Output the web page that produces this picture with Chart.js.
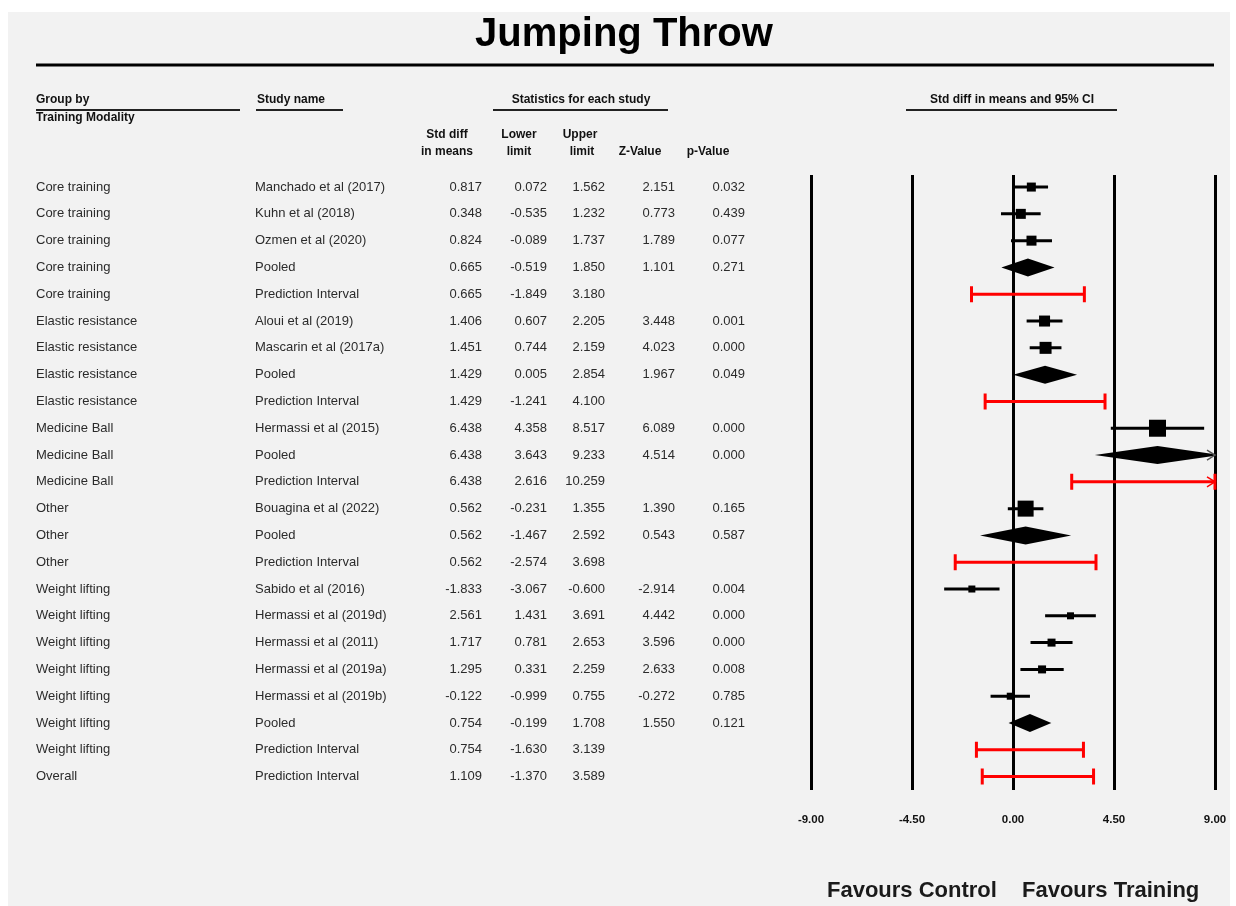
<!DOCTYPE html>
<html>
<head>
<meta charset="utf-8">
<title>Jumping Throw</title>
<script src="https://cdn.jsdelivr.net/npm/chart.js@4.4.1/dist/chart.umd.min.js"></script>
<style>
  html, body { margin: 0; padding: 0; background: #ffffff; }
  canvas { display: block; }
</style>
</head>
<body>
<canvas id="forest" width="1236" height="906"></canvas>
<script>
// ---- Forest plot data (one entry per row, top to bottom) ----
const groups = [
  'Core training', 'Core training', 'Core training', 'Core training', 'Core training',
  'Elastic resistance', 'Elastic resistance', 'Elastic resistance', 'Elastic resistance',
  'Medicine Ball', 'Medicine Ball', 'Medicine Ball',
  'Other', 'Other', 'Other',
  'Weight lifting', 'Weight lifting', 'Weight lifting', 'Weight lifting', 'Weight lifting', 'Weight lifting', 'Weight lifting',
  'Overall'
];
const studies = [
  'Manchado et al (2017)', 'Kuhn et al (2018)', 'Ozmen et al (2020)', 'Pooled', 'Prediction Interval',
  'Aloui et al (2019)', 'Mascarin et al (2017a)', 'Pooled', 'Prediction Interval',
  'Hermassi et al (2015)', 'Pooled', 'Prediction Interval',
  'Bouagina et al (2022)', 'Pooled', 'Prediction Interval',
  'Sabido et al (2016)', 'Hermassi et al (2019d)', 'Hermassi et al (2011)', 'Hermassi et al (2019a)', 'Hermassi et al (2019b)', 'Pooled', 'Prediction Interval',
  'Prediction Interval'
];
const rowKind = [
  'study', 'study', 'study', 'pooled', 'pi',
  'study', 'study', 'pooled', 'pi',
  'study', 'pooled', 'pi',
  'study', 'pooled', 'pi',
  'study', 'study', 'study', 'study', 'study', 'pooled', 'pi',
  'pi'
];
const stdDiff = [0.817, 0.348, 0.824, 0.665, 0.665, 1.406, 1.451, 1.429, 1.429, 6.438, 6.438, 6.438,
                 0.562, 0.562, 0.562, -1.833, 2.561, 1.717, 1.295, -0.122, 0.754, 0.754, 1.109];
const lowerLimit = [0.072, -0.535, -0.089, -0.519, -1.849, 0.607, 0.744, 0.005, -1.241, 4.358, 3.643, 2.616,
                    -0.231, -1.467, -2.574, -3.067, 1.431, 0.781, 0.331, -0.999, -0.199, -1.630, -1.370];
const upperLimit = [1.562, 1.232, 1.737, 1.850, 3.180, 2.205, 2.159, 2.854, 4.100, 8.517, 9.233, 10.259,
                    1.355, 2.592, 3.698, -0.600, 3.691, 2.653, 2.259, 0.755, 1.708, 3.139, 3.589];
const zValue = [2.151, 0.773, 1.789, 1.101, null, 3.448, 4.023, 1.967, null, 6.089, 4.514, null,
                1.390, 0.543, null, -2.914, 4.442, 3.596, 2.633, -0.272, 1.550, null, null];
const pValue = [0.032, 0.439, 0.077, 0.271, null, 0.001, 0.000, 0.049, null, 0.000, 0.000, null,
                0.165, 0.587, null, 0.004, 0.000, 0.000, 0.008, 0.785, 0.121, null, null];
// relative study weights (drive the size of each study's square)
const studyWeight = [9, 10, 10, null, null, 11, 12, null, null, 17, null, null,
                     16, null, null, 7, 7, 8, 8, 7, null, null, null];
const xTicks = [-9, -4.5, 0, 4.5, 9];

// ---- Layout constants ----
const FONT = '"Liberation Sans", Arial, sans-serif';
const TEXT = '#2b2b2b';
const X_MIN = -9, X_MAX = 9;

const studyPoints = [];
rowKind.forEach((k, i) => {
  if (k === 'study') studyPoints.push({ x: stdDiff[i], y: i + 1, w: studyWeight[i] });
});

function fmt(v) { return v === null ? '' : v.toFixed(3); }

// Whiskers, pooled diamonds and prediction intervals, drawn through the chart scales
const intervalPlugin = {
  id: 'intervals',
  beforeDatasetsDraw(chart) {
    const { ctx, chartArea } = chart;
    const xs = chart.scales.x, ys = chart.scales.y;
    const px = v => xs.getPixelForValue(Math.max(X_MIN, Math.min(X_MAX, v)));
    ctx.save();
    rowKind.forEach((kind, i) => {
      const y = ys.getPixelForValue(i + 1);
      const x1 = px(lowerLimit[i]);
      const x2 = px(upperLimit[i]);
      const clippedRight = upperLimit[i] > X_MAX;
      if (kind === 'study') {
        ctx.strokeStyle = '#000';
        ctx.lineWidth = 3;
        ctx.beginPath();
        ctx.moveTo(x1, y);
        ctx.lineTo(x2, y);
        ctx.stroke();
      } else if (kind === 'pooled') {
        const xl = xs.getPixelForValue(lowerLimit[i]);
        const xu = xs.getPixelForValue(upperLimit[i]);
        const xc = xs.getPixelForValue(stdDiff[i]);
        const h = 9;
        ctx.save();
        ctx.beginPath();
        ctx.rect(chartArea.left - 5, chartArea.top, chartArea.right - chartArea.left + 5, chartArea.bottom - chartArea.top);
        ctx.clip();
        ctx.fillStyle = '#000';
        ctx.beginPath();
        ctx.moveTo(xl, y);
        ctx.lineTo(xc, y - h);
        ctx.lineTo(xu, y);
        ctx.lineTo(xc, y + h);
        ctx.closePath();
        ctx.fill();
        ctx.restore();
        if (clippedRight) {
          ctx.strokeStyle = '#555';
          ctx.lineWidth = 1.5;
          ctx.beginPath();
          ctx.moveTo(x2 - 8, y - 5);
          ctx.lineTo(x2, y);
          ctx.lineTo(x2 - 8, y + 5);
          ctx.stroke();
        }
      } else if (kind === 'pi') {
        ctx.strokeStyle = '#ff0000';
        ctx.lineWidth = 3;
        ctx.beginPath();
        ctx.moveTo(x1, y);
        ctx.lineTo(x2, y);
        ctx.moveTo(x1, y - 8);
        ctx.lineTo(x1, y + 8);
        ctx.moveTo(x2, y - 8);
        ctx.lineTo(x2, y + 8);
        ctx.stroke();
        if (clippedRight) {
          ctx.lineWidth = 1.5;
          ctx.beginPath();
          ctx.moveTo(x2 - 8, y - 5);
          ctx.lineTo(x2, y);
          ctx.lineTo(x2 - 8, y + 5);
          ctx.stroke();
        }
      }
    });
    ctx.restore();
  }
};

// Panel background, title, table text and footer labels
const tablePlugin = {
  id: 'table',
  beforeDraw(chart) {
    const { ctx, width, height } = chart;
    ctx.save();
    ctx.fillStyle = '#ffffff';
    ctx.fillRect(0, 0, width, height);
    ctx.fillStyle = '#f2f2f2';
    ctx.fillRect(8, 12, 1222, height - 12);
    ctx.restore();
  },
  afterDraw(chart) {
    const { ctx } = chart;
    const ys = chart.scales.y;
    ctx.save();

    // title and rule
    ctx.fillStyle = '#000';
    ctx.font = 'bold 40px ' + FONT;
    ctx.textAlign = 'center';
    ctx.textBaseline = 'alphabetic';
    ctx.fillText('Jumping Throw', 624, 46);
    ctx.strokeStyle = '#000';
    ctx.lineWidth = 3;
    ctx.beginPath();
    ctx.moveTo(36, 65);
    ctx.lineTo(1214, 65);
    ctx.stroke();

    // column group headers
    ctx.font = 'bold 12px ' + FONT;
    ctx.textBaseline = 'middle';
    ctx.fillStyle = '#111';
    ctx.textAlign = 'left';
    ctx.fillText('Group by', 36, 100);
    ctx.fillText('Training Modality', 36, 118);
    ctx.fillText('Study name', 257, 100);
    ctx.textAlign = 'center';
    ctx.fillText('Statistics for each study', 581, 100);
    ctx.fillText('Std diff in means and 95% CI', 1012, 100);
    ctx.fillText('Std diff', 447, 135);
    ctx.fillText('in means', 447, 152);
    ctx.fillText('Lower', 519, 135);
    ctx.fillText('limit', 519, 152);
    ctx.fillText('Upper', 580, 135);
    ctx.fillText('limit', 582, 152);
    ctx.fillText('Z-Value', 640, 152);
    ctx.fillText('p-Value', 708, 152);

    ctx.strokeStyle = '#222';
    ctx.lineWidth = 2;
    ctx.beginPath();
    ctx.moveTo(36, 110); ctx.lineTo(240, 110);
    ctx.moveTo(256, 110); ctx.lineTo(343, 110);
    ctx.moveTo(493, 110); ctx.lineTo(668, 110);
    ctx.moveTo(906, 110); ctx.lineTo(1117, 110);
    ctx.stroke();

    // table rows
    ctx.font = '13px ' + FONT;
    ctx.fillStyle = TEXT;
    rowKind.forEach((k, i) => {
      const y = ys.getPixelForValue(i + 1);
      ctx.textAlign = 'left';
      ctx.fillText(groups[i], 36, y);
      ctx.fillText(studies[i], 255, y);
      ctx.textAlign = 'right';
      ctx.fillText(fmt(stdDiff[i]), 482, y);
      ctx.fillText(fmt(lowerLimit[i]), 547, y);
      ctx.fillText(fmt(upperLimit[i]), 605, y);
      ctx.fillText(fmt(zValue[i]), 675, y);
      ctx.fillText(fmt(pValue[i]), 745, y);
    });

    // favours labels
    ctx.font = 'bold 22px ' + FONT;
    ctx.fillStyle = '#1a1a1a';
    ctx.textAlign = 'left';
    ctx.textBaseline = 'alphabetic';
    ctx.fillText('Favours Control', 827, 897);
    ctx.fillText('Favours Training', 1022, 897);
    ctx.restore();
  }
};

new Chart(document.getElementById('forest'), {
  type: 'scatter',
  data: {
    datasets: [{
      label: 'Std diff in means',
      data: studyPoints,
      pointStyle: 'rect',
      backgroundColor: '#000',
      borderWidth: 0,
      pointRadius: ctx => (ctx.raw ? ctx.raw.w / Math.SQRT2 : 0),
      pointHoverRadius: ctx => (ctx.raw ? ctx.raw.w / Math.SQRT2 : 0)
    }]
  },
  options: {
    responsive: false,
    animation: false,
    devicePixelRatio: 1,
    events: [],
    layout: { padding: { left: 811, right: 21, top: 175, bottom: 76 } },
    plugins: {
      legend: { display: false },
      tooltip: { enabled: false },
      title: { display: false }
    },
    scales: {
      x: {
        type: 'linear',
        min: X_MIN,
        max: X_MAX,
        afterBuildTicks: scale => { scale.ticks = xTicks.map(v => ({ value: v })); },
        afterFit: scale => {
          scale.height = 40;
          scale.paddingLeft = 0;
          scale.paddingRight = 0;
        },
        border: { display: false },
        grid: { color: '#000', lineWidth: 3, drawTicks: false },
        ticks: {
          padding: 23,
          color: '#111',
          font: { family: FONT, size: 11.5, weight: 'bold' },
          maxRotation: 0,
          autoSkip: false,
          callback: v => Number(v).toFixed(2)
        }
      },
      y: {
        type: 'linear',
        display: false,
        reverse: true,
        min: 0.55,
        max: 23.5
      }
    }
  },
  plugins: [tablePlugin, intervalPlugin]
});
</script>
</body>
</html>
